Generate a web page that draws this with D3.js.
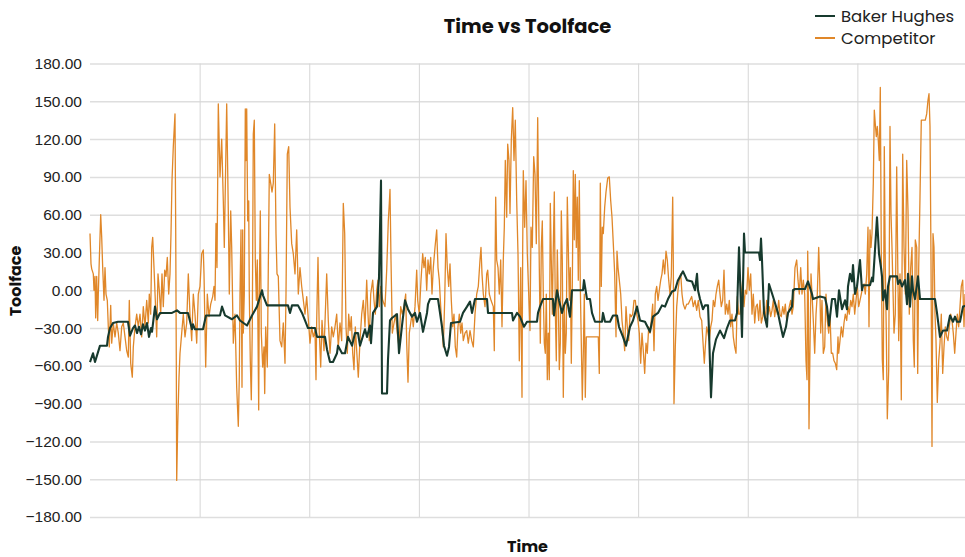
<!DOCTYPE html>
<html>
<head>
<meta charset="utf-8">
<script src="https://cdn.jsdelivr.net/npm/d3@7"></script>
<style>
  body { margin: 0; background: #fff; }
  svg { display: block; font-family: Poppins, Inter, 'Open Sans', sans-serif; }
</style>
</head>
<body>
<svg id="chart" width="965" height="557"></svg>
<script>

// record number along the time axis, toolface in degrees
const seriesNames = ['Baker Hughes', 'Competitor']
const yTicks = [180, 150, 120, 90, 60, 30, 0, -30, -60, -90, -120, -150, -180]
const recordCount = 877

const bakerHughes = [
  [0,-57],[3,-50],[5,-57],[10,-44],[17,-44],[18,-37],[20,-30],[23,-26],[28,-25],[38,-25],[40,-36],[43,-30],
  [45,-28],[47,-34],[49,-29],[51,-35],[53,-27],[55,-32],[57,-26],[59,-37],[61,-30],[62,-33],[65,-13],[67,-23],
  [70,-18],[82,-18],[87,-16],[90,-18],[98,-18],[102,-31],[103,-27],[105,-31],[113,-31],[116,-20],[130,-20],
  [132,-13],[135,-20],[142,-23],[147,-20],[150,-24],[157,-28],[162,-20],[167,-13],[172,0],[173,-4],[177,-12],
  [198,-12],[200,-18],[202,-12],[208,-12],[212,-18],[215,-24],[218,-30],[225,-30],[227,-37],[235,-37],[237,-47],
  [240,-57],[243,-57],[247,-50],[248,-44],[252,-50],[255,-50],[258,-37],[262,-44],[265,-34],[268,-34],[270,-44],
  [275,-31],[277,-37],[280,-28],[281,-42],[283,-18],[287,-13],[289,10],[291,87],[292,-82],[297,-82],[298,-55],
  [300,-24],[302,-22],[307,-19],[309,-50],[312,-28],[315,-8],[318,-15],[322,-21],[325,-18],[327,-25],[330,-18],
  [333,-33],[337,-18],[338,-11],[340,-7],[348,-7],[350,-18],[352,-29],[354,-44],[357,-52],[359,-45],[361,-26],
  [370,-25],[373,-18],[377,-13],[380,-9],[382,-18],[385,-7],[397,-7],[398,-18],[422,-18],[423,-24],[427,-18],
  [430,-21],[434,-29],[437,-25],[447,-25],[448,-18],[450,-13],[453,-7],[463,-7],[464,-20],[467,0],[469,-8],
  [472,-18],[474,-12],[477,-7],[480,-21],[482,0],[493,0],[494,8],[497,-7],[500,-7],[502,-18],[505,-25],[512,-25],
  [513,-18],[515,-25],[520,-25],[523,-20],[527,-20],[529,-29],[533,-37],[536,-44],[540,-29],[543,-24],[547,-13],
  [550,-24],[555,-25],[560,-33],[563,-21],[568,-18],[572,-12],[575,-13],[578,-7],[582,-1],[585,0],[588,8],
  [593,15],[597,8],[602,7],[605,0],[607,13],[608,0],[610,-7],[613,-15],[615,-12],[618,-12],[619,-32],[621,-85],
  [623,-50],[626,-39],[630,-32],[634,-38],[637,-30],[640,-24],[645,-24],[647,-18],[649,34],[652,-37],[654,45],
  [655,30],[669,30],[670,24],[671,41],[672,24],[674,-18],[677,-29],[679,5],[683,-5],[688,-18],[690,-26],
  [693,-37],[696,-29],[698,-18],[702,-13],[703,0],[705,1],[715,1],[718,7],[722,-3],[723,-7],[730,-5],[735,-6],
  [737,-13],[739,-28],[742,-7],[745,-7],[747,-21],[749,0],[752,-15],[755,-8],[757,-15],[758,3],[760,13],
  [762,7],[763,20],[765,-3],[767,3],[770,24],[772,0],[773,4],[780,4],[782,10],[783,7],[785,32],[787,58],
  [789,29],[791,18],[792,11],[793,-8],[795,0],[797,-15],[798,3],[800,11],[807,11],[808,5],[810,8],[812,3],
  [815,8],[817,-11],[818,13],[820,-13],[822,11],[823,0],[825,-7],[828,11],[830,-7],[845,-7],[847,-18],
  [850,-37],[853,-32],[857,-32],[860,-20],[863,-25],[865,-21],[867,-25],[870,-25],[873,-13],[877,-12]
]

const competitor = [
  [0,45],[1,21],[1.7,17],[3.3,13],[4,0],[5,11],[5.7,-22],[6.7,11],[7.7,-24],[8.3,-3],[9.3,24],[10.7,60],
  [11.7,42],[12.7,18],[14,-8],[15,18],[16,-3],[17.3,-8],[18.3,-29],[19.3,-45],[20.7,-12],[21.7,-42],[23.3,-26],
  [25,-37],[26.7,-26],[28.3,-34],[30,-48],[31.7,-29],[33.3,-26],[35,-37],[36.7,-48],[38.3,-53],[39.3,-8],
  [40.7,-58],[42.3,-69],[43.3,-45],[45,-29],[46.7,-19],[48.3,-29],[50,-19],[51.7,-37],[53.3,-13],[55,-29],
  [56.7,-8],[58.3,-26],[59.3,-3],[60.7,-19],[61.7,34],[62.7,42],[64,18],[65.3,-8],[66.7,-37],[68,13],[69.3,0],
  [70.7,-19],[72,13],[73.3,-13],[74.7,16],[76,11],[77.3,26],[78.7,-3],[80,13],[81,45],[82,87],[83.3,114],
  [85,140],[85.7,50],[86.3,-56],[86.7,-151],[87.7,-108],[89,-69],[90,-50],[91.7,-34],[93.3,-19],[95,-37],
  [96.7,-26],[98.3,13],[100,-19],[101.7,-40],[103.3,-3],[105,-19],[106.7,-42],[108.3,-3],[110,3],[111.7,29],
  [113.3,32],[114,13],[115.7,-61],[117.3,-3],[119,-21],[120.7,-11],[122.7,-5],[124,3],[125,-8],[126,53],
  [127,18],[128.3,148],[130,90],[131.7,120],[133.3,71],[134.3,34],[135.7,100],[136.7,148],[138.3,63],
  [139.3,-3],[140.7,63],[141.7,34],[143.3,-42],[145,-19],[146.7,-77],[148.3,-108],[149.3,-69],[150,-3],
  [151,48],[152,-77],[152.7,48],[153.3,-34],[154.3,-3],[155.3,144],[156,103],[156.7,144],[157.7,55],
  [158.7,71],[159.3,-3],[160.3,-56],[161.3,-87],[162.3,-29],[163.3,124],[164.3,135],[165.3,24],[166.3,-8],
  [167.3,24],[168.7,-95],[169.3,-3],[170.3,63],[171.3,-34],[172.7,-61],[174,-45],[174.7,-82],[175.7,-29],
  [177.3,-61],[178.3,18],[179.3,92],[180.7,85],[182,78],[183.3,85],[184.7,132],[186,45],[187,13],[188.3,11],
  [190,-40],[191.7,-45],[193.3,-26],[195,-58],[196,-3],[197.3,108],[198.7,114],[200,66],[201.7,37],
  [203.3,29],[205,13],[206.7,48],[208.3,-3],[210,18],[211.7,3],[215,-19],[216.7,-5],[220,-42],[221.7,-29],
  [223.3,-37],[225,-32],[226,-71],[226.7,-24],[228,26],[229.3,-34],[230.7,-61],[232,-24],[234,-48],
  [236.7,13],[238.3,-24],[240,-50],[241.7,-29],[243.3,-37],[245,-29],[246.7,-19],[248.3,-45],[250,-26],
  [251.7,-40],[253.3,69],[254.7,45],[256,-29],[257.3,-50],[258.7,-19],[260,-32],[261.3,-21],[262.7,-50],
  [264,-63],[265.3,-29],[266.7,-48],[268.3,-69],[270,-40],[271.7,-19],[273.3,-8],[275,-29],[276.7,8],
  [278,-19],[279.3,-40],[280.7,-3],[282.7,8],[284,-8],[285.3,-19],[286.7,0],[288,8],[289.3,-13],[290.7,3],
  [292.7,-8],[295,-13],[296.7,16],[298.3,55],[299.3,69],[300,80],[301,24],[302.3,-34],[304,-26],[305.7,-19],
  [307.3,-34],[309,-45],[310.7,-13],[312.3,-19],[314,-13],[315.7,-3],[316.7,-42],[318,-73],[319.3,-34],
  [320.7,-26],[322,-19],[323.3,-29],[325,-13],[326.7,16],[327.7,-8],[329.3,-19],[331,8],[332.7,29],[334,18],
  [335.3,26],[336.7,0],[338,24],[339.3,13],[340.7,26],[342,-3],[343.3,18],[345,34],[346.7,48],[348,18],
  [349.3,8],[350.7,-13],[352,-29],[353.3,-45],[354.7,-8],[356,45],[357.3,18],[358.7,3],[360,21],[361.3,-8],
  [362.7,-29],[364,-19],[365.3,-45],[366.7,-53],[368,-29],[369.3,-19],[370.7,-34],[372,-26],[373.3,-40],
  [375,-34],[376.7,-32],[378.3,-42],[380,-32],[381.7,-40],[383.3,-45],[385,-19],[386.7,-3],[388.3,3],
  [390,24],[391,34],[392,13],[393.3,-3],[395,-13],[396.7,13],[397.7,16],[399.3,-3],[401,-8],[403.3,-13],
  [404.3,-48],[405.7,74],[406.7,24],[408,18],[409.3,-3],[410.7,24],[412,-29],[413.3,24],[414.3,50],
  [415.3,103],[416.7,58],[417.7,116],[419,103],[420,61],[421.3,119],[422.7,145],[424,103],[425.3,135],
  [426.7,71],[428,29],[429.3,-56],[430.7,18],[432,-85],[432.7,34],[433.3,95],[434.7,50],[436,87],[437.3,29],
  [438.7,-3],[440,-32],[441,50],[442.3,34],[443.7,106],[445,92],[446.3,37],[447.7,137],[449.3,18],
  [450.3,-42],[451.3,34],[452.3,55],[453.3,-3],[454.3,-42],[455.3,-50],[456.3,-3],[457.3,-71],[458.3,-34],
  [459.3,-71],[460.3,69],[461.3,24],[462.3,-19],[463.3,34],[464.3,78],[465.3,-16],[466.3,-56],[467.3,32],
  [468.3,-8],[469.3,-63],[470.3,-42],[471.3,63],[472.3,24],[473.3,-85],[474.3,-13],[475.3,-50],[476.3,-34],
  [477.3,74],[478.3,34],[479.3,-8],[480.3,18],[481.3,-58],[482.3,3],[483.3,95],[484.3,40],[485.3,92],
  [486.3,34],[487.3,74],[488.3,8],[489.3,87],[490.3,3],[491.3,-42],[492.3,-87],[493.3,-50],[494.3,-3],
  [495.3,-85],[496.3,-37],[508.3,-37],[509.3,-66],[510.3,85],[511.3,3],[512.3,50],[513.3,45],[514.7,66],
  [516,78],[517.7,89],[519.3,90],[520.7,71],[522,58],[523.3,37],[524.7,13],[526,-37],[527,31],[528,18],
  [529.3,8],[530.7,-3],[532,-24],[533.3,-34],[534.7,-48],[536,-13],[537.3,-29],[538.7,-40],[540,-19],
  [541.3,-21],[542.7,-19],[544,-8],[545.3,-8],[546.7,-19],[548,-24],[549.3,-34],[550.7,-58],[552,-34],
  [553.3,-48],[554.7,-66],[556,-42],[557.3,-50],[558.7,-29],[560,-34],[561.3,-24],[562.7,-11],[564,-48],
  [565.3,-3],[566.7,3],[568,-8],[569.3,0],[570.7,8],[572,13],[573.3,24],[574.7,13],[576,31],[577.3,24],
  [578.7,8],[580,-3],[581.3,11],[582.7,74],[583.3,24],[584,-90],[585.3,-45],[586.7,-13],[588,0],[589.3,8],
  [590.7,13],[592,-3],[593.3,-11],[595,-15],[596.7,-11],[598.3,-11],[600,-8],[601.7,-5],[603.3,-13],
  [605,-8],[606.7,-16],[608.3,-8],[610,-21],[611.7,-24],[613.3,-45],[614.3,-58],[615.3,-45],[616.7,-29],
  [618,-34],[619.3,-40],[620.7,-29],[622,-24],[623.3,-8],[624.7,-13],[626,-3],[627.3,3],[628.7,8],[630,-3],
  [631.3,-13],[632.7,-8],[634,16],[635.3,-19],[636.7,-11],[638,-19],[639.3,-8],[640.7,-29],[642,-19],
  [643.3,-37],[644.7,-45],[646,-50],[647.3,-5],[648.7,-19],[650,-19],[651.3,-3],[652.7,8],[654,-13],
  [655.3,0],[656.7,-3],[658,18],[659.3,0],[660.7,13],[662,-19],[663.3,-3],[664.7,-26],[666,-13],[667.3,-11],
  [668.7,-24],[670,-8],[671.3,-26],[672.7,-21],[674,-13],[675.3,-24],[676.7,-8],[678,-19],[679.3,-13],
  [680.7,-21],[682,-16],[683.3,-8],[684.7,-21],[686,-13],[687.3,-19],[688.7,-8],[690,-19],[691.3,-21],
  [692.7,-13],[694,-19],[695.3,-11],[696.7,-24],[698,-19],[699.3,-13],[700.7,-8],[702,-19],[703.3,-13],
  [705,18],[706.7,24],[708,8],[709.3,-3],[710.7,18],[712,-3],[713.3,8],[714.7,-3],[716,-56],[717,-71],
  [717.7,31],[718.3,-3],[719,-110],[720,-45],[721,13],[722,-3],[723.3,-24],[724.7,-50],[726,-19],[727.3,-3],
  [728.7,34],[729.7,8],[730.7,-34],[732,-8],[733.3,-50],[734.7,-45],[736,-3],[737.3,-24],[738.7,-34],
  [740,-19],[741.3,-50],[742.7,-50],[744,-56],[745.3,-58],[746.7,-63],[748,-37],[748.7,-50],[750,-40],
  [751.3,-29],[752.7,-37],[754,-26],[755.3,-19],[756.7,-24],[758,-13],[759.3,-19],[760.7,-8],[762,-13],
  [763.3,-3],[764.7,-19],[766,-8],[767.3,3],[768.7,-13],[770,-8],[771.3,-3],[772.7,3],[774,5],[775.3,-3],
  [776.7,13],[778,50],[779,-29],[780,48],[781,34],[782,45],[783.3,85],[784.3,143],[785.3,132],[786.3,122],
  [787.3,130],[788.3,119],[789.3,103],[790.3,161],[791.3,29],[792.3,-55],[793.3,-71],[794.3,114],[795.3,18],
  [796.3,-34],[797.3,-102],[798.7,-63],[800,130],[801,61],[802,34],[803,0],[804,-34],[805.3,-19],[806.7,98],
  [807.7,24],[808.7,-40],[810,13],[811.3,-87],[812.7,108],[814,34],[815.3,-3],[816.7,103],[818,63],
  [819.3,-19],[820.7,18],[822,34],[823.3,-40],[824.3,-61],[825.3,40],[826.7,34],[827.7,-66],[828.7,18],
  [830,74],[831.3,135],[835.3,135],[836.7,140],[838,151],[839,156],[840,130],[841,24],[842,-124],[843,45],
  [844,34],[845,-19],[846,-40],[847.3,-89],[848.7,-56],[850,-42],[851.3,-19],[852.7,-66],[854,-45],
  [855.3,-29],[856.7,-37],[858,-40],[859.3,-29],[860.7,-19],[862,-24],[863.3,-34],[864.7,-50],[866,-34],
  [867.3,-19],[868.7,-29],[870,-13],[871.3,3],[872.7,8],[874,-29],[875,-3]
]

const colors = { 'Baker Hughes': '#173a2e', 'Competitor': '#e08729' }

const svg = d3.select('#chart')
const plot = { left: 90, right: 967, top: 63.5, bottom: 517 }

const x = d3.scaleLinear().domain([0, recordCount]).range([plot.left, plot.right])
const y = d3.scaleLinear().domain([-180, 180]).range([plot.bottom, plot.top])

// grid
const yAxis = d3.axisLeft(y).tickValues(yTicks).tickFormat(d3.format('.2f'))
    .tickSize(-(plot.right - plot.left)).tickPadding(8)
const yg = svg.append('g').attr('transform', `translate(${plot.left},0)`).call(yAxis)
yg.select('.domain').remove()
yg.selectAll('.tick line').attr('stroke', '#dedede').attr('stroke-width', 1.5)
yg.selectAll('.tick text')
    .attr('fill', '#222')
    .attr('font-size', 15.5)
    .attr('font-family', 'inherit')

const xTicks = d3.range(1, 8).map(i => recordCount * i / 8)
const xAxis = d3.axisBottom(x).tickValues(xTicks).tickFormat('')
    .tickSize(-(plot.bottom - plot.top)).tickSizeOuter(0)
const xg = svg.append('g').attr('transform', `translate(0,${plot.bottom})`).call(xAxis)
xg.select('.domain').remove()
xg.selectAll('.tick line').attr('stroke', '#d6d6d6').attr('stroke-width', 1)

// lines
const line = d3.line().x(d => x(d[0])).y(d => y(d[1]))

svg.append('path')
    .datum(competitor)
    .attr('fill', 'none')
    .attr('stroke', colors['Competitor'])
    .attr('stroke-width', 1.3)
    .attr('stroke-linejoin', 'round')
    .attr('d', line)

svg.append('path')
    .datum(bakerHughes)
    .attr('fill', 'none')
    .attr('stroke', colors['Baker Hughes'])
    .attr('stroke-width', 2.1)
    .attr('stroke-linejoin', 'round')
    .attr('d', line)

// titles
const midX = (plot.left + plot.right) / 2 - 1

svg.append('text')
    .attr('x', midX).attr('y', 33)
    .attr('text-anchor', 'middle')
    .attr('font-size', 19.5).attr('font-weight', 700).attr('fill', '#111')
    .text('Time vs Toolface')

svg.append('text')
    .attr('x', midX).attr('y', 552)
    .attr('text-anchor', 'middle')
    .attr('font-size', 16).attr('font-weight', 700).attr('fill', '#111')
    .text('Time')

svg.append('text')
    .attr('transform', 'translate(21,281) rotate(-90)')
    .attr('text-anchor', 'middle')
    .attr('font-size', 16).attr('font-weight', 700).attr('fill', '#111')
    .text('Toolface')

// legend
const legend = svg.append('g').selectAll('g').data(seriesNames).enter()
    .append('g')
    .attr('transform', (d, i) => `translate(815,${16 + i * 22})`)

legend.append('line')
    .attr('x1', 0).attr('x2', 20)
    .attr('stroke', d => colors[d])
    .attr('stroke-width', 2)

legend.append('text')
    .attr('x', 26).attr('dy', '0.35em')
    .attr('font-size', 16.5).attr('fill', '#222')
    .text(d => d)

</script>
</body>
</html>
